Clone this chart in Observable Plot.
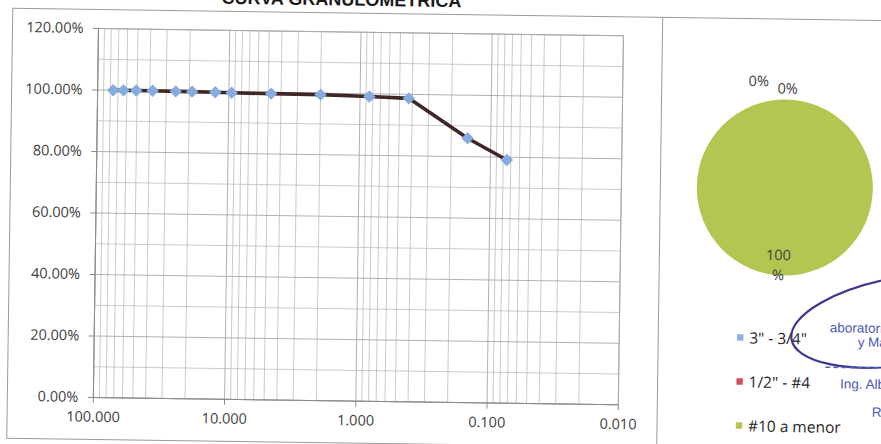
<!DOCTYPE html>
<html>
<head>
<meta charset="utf-8">
<script src="https://cdn.jsdelivr.net/npm/d3@7"></script>
<script src="https://cdn.jsdelivr.net/npm/@observablehq/plot@0.6"></script>
<style>
  html, body { margin: 0; padding: 0; background: #fff; overflow: hidden; }
  #page { position: relative; width: 881px; height: 444px; transform: rotate(0.8deg); transform-origin: 98px 28px; font-family: "Open Sans", sans-serif; }
  #title { position: absolute; left: 0; width: 682px; top: -13px; text-align: center; font-family: "Liberation Sans", Arial, sans-serif; font-weight: bold; font-size: 18px; line-height: 18px; color: #1a1a1a; white-space: nowrap; }
  #box { position: absolute; left: 12px; top: 9px; width: 920px; height: 431px; border: 1px solid #9a9a9a; box-sizing: border-box; }
  #divider { position: absolute; left: 662px; top: 9px; width: 1px; height: 440px; background: #9a9a9a; }
  #main { position: absolute; left: 0; top: 0; width: 662px; height: 444px; }
  #side { position: absolute; left: 662px; top: 9px; width: 240px; height: 440px; }
  #main svg, #side svg { max-width: none; }
  #stamp { position: absolute; left: 0; top: 0; }
</style>
</head>
<body>
<div id="page">
  <div id="title">CURVA GRANULOMETRICA</div>
  <div id="box"></div>
  <div id="divider"></div>
  <div id="main"></div>
  <div id="side"></div>
  <svg id="stamp" width="900" height="444"></svg>
</div>
<script>
// ---- Granulometric curve data (sieve opening in mm, fraction passing) ----
const sieveSizes = [76.2, 63.5, 50.8, 38.1, 25.4, 19.05, 12.7, 9.525, 4.76, 2.0, 0.85, 0.425, 0.15, 0.075];
const passing    = [1.000, 1.000, 1.000, 1.000, 0.999, 0.999, 0.998, 0.997, 0.996, 0.995, 0.991, 0.987, 0.860, 0.791];

// ---- Axis ticks ----
const xTicks = [100, 10, 1, 0.1, 0.01];
const yTicks = [0, 0.2, 0.4, 0.6, 0.8, 1.0, 1.2];
const yMinor = [0.1, 0.3, 0.5, 0.7, 0.9, 1.1];

// ---- Pie data ----
const pieLabels = ['3" - 3/4"', '1/2" - #4', '#10 a menor'];
const pieValues = [0, 0, 100];
const pieText   = ["0%", "0%", "100\n%"];
const pieColors = ["#8db3e2", "#cf4f5a", "#b4c552"];

const curve = sieveSizes.map((s, i) => ({size: s, pass: passing[i]}));

// log minor grid (2..9 within each decade)
const xMinor = [];
for (const dec of [10, 1, 0.1, 0.01]) for (let k = 2; k <= 9; k++) xMinor.push(+(k * dec).toPrecision(3));

const main = Plot.plot({
  width: 662,
  height: 444,
  marginLeft: 98,
  marginRight: 39,
  marginTop: 28,
  marginBottom: 47,
  x: {type: "log", domain: [100, 0.01]},
  y: {domain: [0, 1.2]},
  style: {fontFamily: "'Open Sans', sans-serif", fontSize: "14.5px", color: "#404040", background: "transparent", overflow: "visible"},
  marks: [
    Plot.gridX(xMinor, {stroke: "#bdbdbd", strokeOpacity: 0.8}),
    Plot.gridX(xTicks, {stroke: "#a8a8a8", strokeOpacity: 0.9}),
    Plot.gridY(yMinor, {stroke: "#bdbdbd", strokeOpacity: 0.8}),
    Plot.gridY(yTicks, {stroke: "#a8a8a8", strokeOpacity: 0.9}),
    Plot.frame({stroke: "#a8a8a8"}),
    Plot.ruleX([100], {stroke: "#8a8a8a"}),
    Plot.ruleY([0], {stroke: "#8a8a8a"}),
    Plot.axisX(xTicks, {tickFormat: d => d.toFixed(3), tickSize: 6, tickPadding: 8, stroke: "#8a8a8a", label: null}),
    Plot.axisY(yTicks, {tickFormat: d => (d * 100).toFixed(2) + "%", tickSize: 5, tickPadding: 10, stroke: "#8a8a8a", label: null}),
    Plot.line(curve, {x: "size", y: "pass", stroke: "#402627", strokeWidth: 3.6}),
    Plot.dot(curve, {x: "size", y: "pass", symbol: "diamond2", r: 5.6, fill: "#84acdf", stroke: "none"})
  ]
});
document.getElementById("main").append(main);

// ---- Pie chart panel ----
const cx = 125, cy = 169, R = 88;
const pieData = pieLabels.map((label, i) => ({label, value: pieValues[i], text: pieText[i]}));
const arcs = d3.pie().sort(null).value(d => d.value)(pieData);
const labelOffsets = [[-28, -7, R + 13], [1, 0, R + 13], [-6, 0, R * 0.86]];
const pieLabelData = arcs.map((a, i) => {
  const mid = (a.startAngle + a.endAngle) / 2;
  const rr = labelOffsets[i][2];
  return {text: a.data.text, px: cx + rr * Math.sin(mid) + labelOffsets[i][0], py: cy - rr * Math.cos(mid) + labelOffsets[i][1]};
});
const legendY = d3.scalePoint().domain(pieLabels).range([320, 408]);

const side = Plot.plot({
  width: 240,
  height: 440,
  margin: 0,
  x: {type: "identity", axis: null},
  y: {type: "identity", axis: null},
  color: {domain: pieLabels, range: pieColors},
  style: {fontFamily: "'Open Sans', sans-serif", fontSize: "14.5px", color: "#404040", background: "transparent", overflow: "visible"},
  marks: [
    (index, scales) => {
      const g = d3.create("svg:g").attr("transform", `translate(${cx},${cy})`);
      const arc = d3.arc().innerRadius(0).outerRadius(R);
      g.selectAll("path").data(arcs).join("path")
        .attr("d", arc)
        .attr("fill", d => scales.color(d.data.label));
      return g.node();
    },
    Plot.text(pieLabelData, {x: "px", y: "py", text: "text", lineHeight: 1.38, fill: "#404040"}),
    Plot.dot(pieLabels, {x: () => 82, y: d => legendY(d) - 1, fill: d => d, symbol: "square", r: 3.6}),
    Plot.text(pieLabels, {x: () => 91, y: d => legendY(d), text: d => d, textAnchor: "start", fontSize: 15.5, fill: "#262626"})
  ]
});
document.getElementById("side").append(side);

// ---- scanned stamp remnants (decoration) ----
const st = d3.select("#stamp");
st.append("ellipse").attr("cx", 912).attr("cy", 309).attr("rx", 118).attr("ry", 44)
  .attr("transform", "rotate(-10 912 309)")
  .attr("fill", "none").attr("stroke", "#3b3890").attr("stroke-width", 2.2);
st.append("line").attr("x1", 830).attr("x2", 900).attr("y1", 357).attr("y2", 357)
  .attr("stroke", "#5560b8").attr("stroke-width", 1.6).attr("stroke-dasharray", "5 3");
const stampTxt = [["aboratorio", 834, 322], ["y Materiales", 862, 336], ["Ing. Alberto", 845, 378], ["Reg", 877, 406]];
st.selectAll("text").data(stampTxt).join("text")
  .attr("x", d => d[1]).attr("y", d => d[2]).text(d => d[0])
  .attr("fill", "#4c57b6").attr("font-family", "Liberation Sans, Arial, sans-serif").attr("font-size", 13.5);
</script>
</body>
</html>
